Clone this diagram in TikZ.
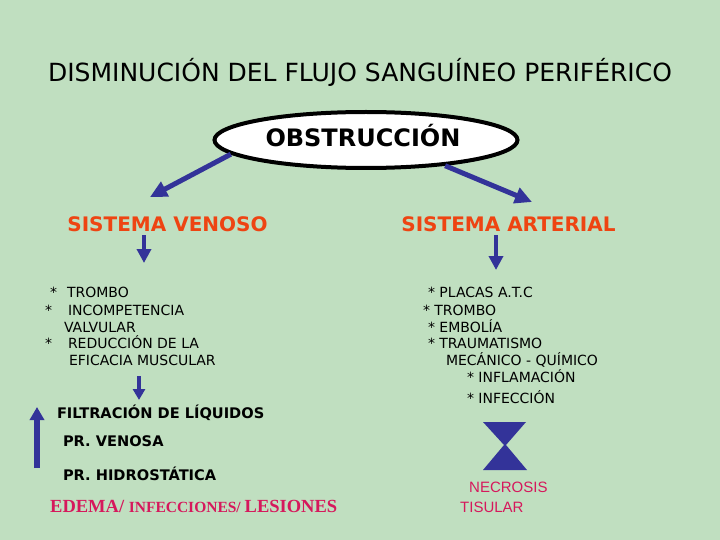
\documentclass[tikz,border=0pt]{standalone}
\usepackage{fontspec}
\setmainfont{DejaVu Sans}
\newfontfamily\arialfont{Liberation Sans}
\newfontfamily\timesfont{Liberation Serif}
\usetikzlibrary{shapes.geometric,arrows.meta}

\definecolor{bggreen}{RGB}{192,223,192}
\definecolor{arrowblue}{RGB}{51,51,153}
\definecolor{venred}{RGB}{238,68,18}
\definecolor{edemared}{RGB}{214,24,92}

\begin{document}
\begin{tikzpicture}[
    x=1pt, y=-1pt,
    txt/.style={anchor=base west, inner sep=0pt, outer sep=0pt, font=\fontsize{14}{16}\selectfont},
    boldtxt/.style={anchor=base west, inner sep=0pt, outer sep=0pt, font=\fontsize{14.6}{16}\selectfont\bfseries},
    heading/.style={anchor=base, inner sep=0pt, outer sep=0pt, text=venred, font=\fontsize{20}{24}\selectfont\bfseries},
    oval/.style={ellipse, draw=black, line width=4pt, fill=white, minimum width=303pt, minimum height=56pt, inner sep=0pt},
    bigarrow/.style={draw=arrowblue, line width=5pt, -{Triangle[length=17pt,width=16pt]}},
    downarrow/.style={draw=arrowblue, line width=4.5pt, -{Triangle[length=14pt,width=14pt]}},
]

% Background
\fill[bggreen] (0,0) rectangle (720,540);
\useasboundingbox (0,0) rectangle (720,540);

% === Title ===
\node[anchor=base, inner sep=0pt, font=\fontsize{25}{28}\selectfont] (title) at (360,82) {DISMINUCIÓN DEL FLUJO SANGUÍNEO PERIFÉRICO};

% === Obstruction ===
\node[oval] (obs) at (366,140) {};
\node[anchor=base, inner sep=0pt, font=\fontsize{24}{28}\selectfont\bfseries] (obstxt) at (363,147) {OBSTRUCCIÓN};

% === Headings ===
\node[heading] (ven) at (167.5,231) {SISTEMA VENOSO};
\node[heading] (art) at (508.5,231) {SISTEMA ARTERIAL};

\coordinate (venTip) at (150,197);
\coordinate (artTip) at (532,202);
\draw[bigarrow] (obs.186.5) -- (venTip);
\draw[bigarrow] (obs.342) -- (artTip);

% === Venous causes ===
\coordinate (venDown) at (144,263);
\draw[downarrow, shorten <=4pt] (ven.south -| venDown) -- (venDown);

\node[txt] (v1s) at (50,297) {*};
\node[txt] (v1) at (67,297) {TROMBO};
\node[txt] (v2s) at (45,315) {*};
\node[txt] (v2) at (68,315) {INCOMPETENCIA};
\node[txt] (v3) at (64,332) {VALVULAR};
\node[txt] (v4s) at (45,348) {*};
\node[txt] (v4) at (68,348) {REDUCCIÓN DE LA};
\node[txt] (v5) at (69,365) {EFICACIA MUSCULAR};

\coordinate (filtTip) at (139,400);
\draw[draw=arrowblue, line width=4pt, -{Triangle[length=11pt,width=12pt]}, shorten <=11pt] (v5.south -| filtTip) -- (filtTip);

% === Venous consequences ===
\node[boldtxt] (filt) at (57,418) {FILTRACIÓN DE LÍQUIDOS};
\node[boldtxt] (prven) at (63,446) {PR. VENOSA};
\node[boldtxt] (prhid) at (63,480) {PR. HIDROSTÁTICA};

\coordinate (upBase) at (37,468);
\coordinate (upTip) at (37,407);
\draw[draw=arrowblue, line width=6pt, -{Triangle[length=13pt,width=14pt]}] (upBase) -- (upTip);

\node[anchor=base west, inner sep=0pt, text=edemared, font=\timesfont\bfseries] (edema) at (50,512)
    {\fontsize{18.5}{20}\selectfont EDEMA/ \fontsize{15.5}{18}\selectfont INFECCIONES/ \fontsize{18.5}{20}\selectfont LESIONES};

% === Arterial causes ===
\coordinate (artDown) at (496,270);
\draw[downarrow, shorten <=4pt] (art.south -| artDown) -- (artDown);

\node[txt] (a1) at (428,297) {* PLACAS A.T.C};
\node[txt] (a2) at (423,315) {* TROMBO};
\node[txt] (a3) at (428,332) {* EMBOLÍA};
\node[txt] (a4) at (428,348) {* TRAUMATISMO};
\node[txt] (a5) at (446,365) {MECÁNICO - QUÍMICO};
\node[txt] (a6) at (467,382) {* INFLAMACIÓN};
\node[txt] (a7) at (467,403) {* INFECCIÓN};

% Hourglass
\fill[arrowblue] (483,422) -- (526,422) -- (506,445) -- (527,470) -- (483,470) -- (504,445) -- cycle;

\node[anchor=base west, inner sep=0pt, text=edemared, font=\arialfont\fontsize{15}{18}\selectfont] (necr) at (469,492) {NECROSIS};
\node[anchor=base west, inner sep=0pt, text=edemared, font=\arialfont\fontsize{15}{18}\selectfont] (tis) at (460,512) {TISULAR};

\end{tikzpicture}
\end{document}
